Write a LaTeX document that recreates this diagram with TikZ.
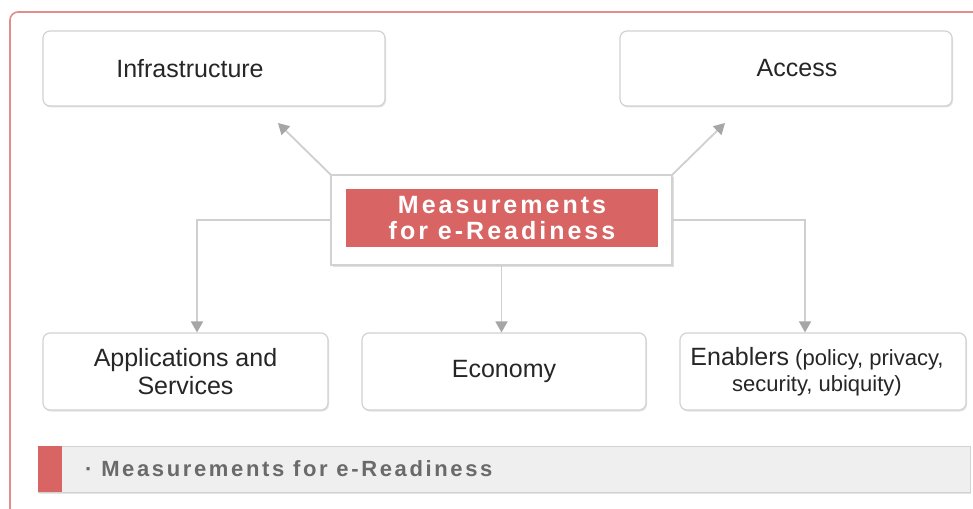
\documentclass[tikz,border=0pt]{standalone}
\usepackage{fontspec}
\setmainfont{Liberation Sans}
\newfontfamily\trackfont[LetterSpace=12]{Liberation Sans}
\usetikzlibrary{arrows.meta,shadows,calc}
\definecolor{framec}{HTML}{E38C8C}
\definecolor{redfill}{HTML}{D86464}
\definecolor{boxline}{HTML}{D2D2D2}
\definecolor{txt}{HTML}{262626}
\definecolor{connline}{HTML}{CFCFCF}
\definecolor{tipc}{HTML}{A6A6A6}
\definecolor{barfill}{HTML}{EFEFEF}
\definecolor{bartxt}{HTML}{6A6A6A}
\begin{document}
\begin{tikzpicture}[x=1pt,y=-1pt,
  box/.style={draw=boxline, line width=1.2pt, fill=white, rounded corners=7pt,
    drop shadow={shadow xshift=1pt, shadow yshift=-1.5pt, opacity=0.22, fill=gray},
    text=txt, font=\fontsize{25}{28}\selectfont, align=center, inner sep=0pt},
  boxtext/.style={text=txt, font=\fontsize{25}{28}\selectfont, align=center, inner sep=0pt},
  conn/.style={draw=connline, line width=1.8pt, -{Triangle[length=11pt,width=12pt,color=tipc]}}]
\clip (0,0) rectangle (973,508);
\fill[white] (0,0) rectangle (973,508);
% outer frame (cropped)
\draw[framec, line width=1.6pt, rounded corners=8pt] (10,530) -- (10,12) -- (995,12);

% top boxes
\node[box, minimum width=342pt, minimum height=75pt] (infra) at (214,68.5) {};
\node[boxtext] (infratext) at (190,68.5) {Infrastructure};
\node[box, minimum width=332pt, minimum height=75pt] (access) at (786,68.5) {};
\node[boxtext] (accesstext) at (797,68.5) {Access};

% centre box
\node[draw=boxline, line width=1.2pt, fill=white, minimum width=341pt, minimum height=90pt, inner sep=0pt,
  drop shadow={shadow xshift=1.5pt, shadow yshift=-2pt, opacity=0.25, fill=gray}] (ctr) at (501.5,220) {};
\node[fill=redfill, minimum width=312pt, minimum height=58pt, inner sep=0pt, text=white,
  font=\trackfont\bfseries\fontsize{25}{26}\selectfont, align=center] (ctrtext) at (502,218)
  {Measurements\\for e-Readiness};

% bottom boxes
\node[box, minimum width=285pt, minimum height=77pt] (app) at (185.5,371.5) {Applications and\\Services};
\node[box, minimum width=284pt, minimum height=77pt] (eco) at (504,371.5) {Economy};
\node[box, minimum width=286pt, minimum height=77pt] (en) at (823,371.5) {};
\node[boxtext, font=\fontsize{22}{26}\selectfont] (entext) at (817,371.5)
  {{\fontsize{25}{26}\selectfont Enablers} (policy, privacy,\\security, ubiquity)};

% connectors
\coordinate (tipL) at (278,123);
\coordinate (tipR) at (725,123);
\draw[conn] (ctr.north west) -- (tipL);
\draw[conn] (ctr.north east) -- (tipR);
\draw[conn] (ctr.west) -| ([xshift=11.5pt]app.north);
\draw[conn] (ctr.south) -- (ctr.south |- eco.north);
\draw[conn] (ctr.east) -| ([xshift=-18pt]en.north);

% bottom caption bar
\node[draw=boxline, line width=1pt, fill=barfill, minimum width=932pt, minimum height=46pt, inner sep=0pt,
  drop shadow={shadow xshift=1pt, shadow yshift=-1.5pt, opacity=0.2, fill=gray}] (bar) at (504,469) {};
\node[fill=redfill, minimum width=24pt, minimum height=46pt, inner sep=0pt, anchor=west] (barred) at (bar.west) {};
\node[anchor=west, inner sep=0pt, text=bartxt, font=\trackfont\bfseries\fontsize{22}{24}\selectfont] (bartext) at (85,469)
  {· Measurements for e-Readiness};
\end{tikzpicture}
\end{document}
